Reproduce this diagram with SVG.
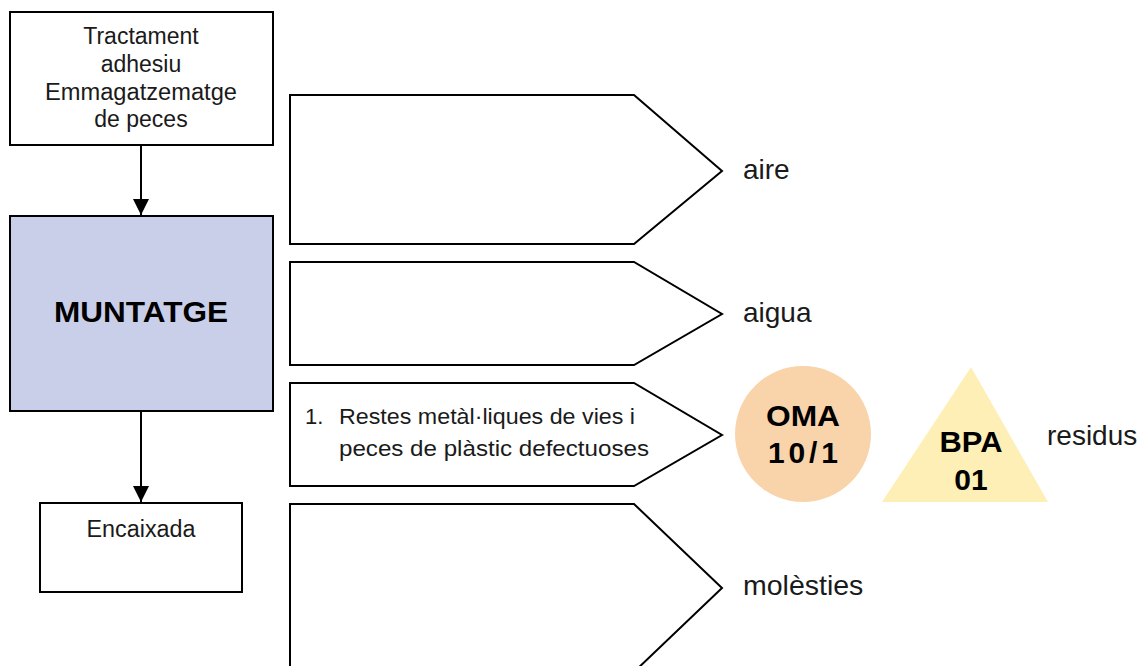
<svg xmlns="http://www.w3.org/2000/svg" width="1144" height="666" viewBox="0 0 1144 666">
<defs>
<style>
.box{fill:#fff;stroke:#000;stroke-width:2}
.pent{fill:#fff;stroke:#000;stroke-width:2;stroke-linejoin:miter}
.t{font-family:"Liberation Sans",Arial,Helvetica,sans-serif;fill:#1a1a1a}
.c{text-anchor:middle}
.b{font-weight:bold;fill:#000}
.conn{stroke:#000;stroke-width:2;fill:none}
</style>
<marker id="ahd" viewBox="0 0 16 16" refX="16" refY="8" markerWidth="16" markerHeight="16" markerUnits="userSpaceOnUse" orient="auto">
<path d="M0,0 L16,8 L0,16 Z" fill="#000"/>
</marker>
</defs>
<rect width="1144" height="666" fill="#fff"/>

<g id="connectors">
<line class="conn" x1="141" y1="145" x2="141" y2="215" marker-end="url(#ahd)"/>
<line class="conn" x1="141" y1="411" x2="141" y2="502" marker-end="url(#ahd)"/>
</g>

<g id="node-tractament">
<rect class="box" x="10" y="12" width="263" height="133"/>
<text class="t c" x="141" y="44" font-size="23">Tractament</text>
<text class="t c" x="141" y="72" font-size="23">adhesiu</text>
<text class="t c" x="141" y="100" font-size="23" textLength="192" lengthAdjust="spacingAndGlyphs">Emmagatzematge</text>
<text class="t c" x="141" y="127" font-size="23">de peces</text>
</g>

<g id="node-muntatge">
<rect x="10" y="216" width="263" height="195" fill="#c9cfe8" stroke="#000" stroke-width="2"/>
<text class="t c b" x="141" y="322" font-size="30" textLength="174" lengthAdjust="spacingAndGlyphs">MUNTATGE</text>
</g>

<g id="node-encaixada">
<rect class="box" x="40" y="503" width="202" height="89"/>
<text class="t c" x="141" y="537" font-size="23" textLength="109" lengthAdjust="spacingAndGlyphs">Encaixada</text>
</g>

<g id="node-aire">
<polygon class="pent" points="290,95 634,95 722,171 634,244 290,244"/>
<text class="t" x="743" y="179" font-size="28">aire</text>
</g>

<g id="node-aigua">
<polygon class="pent" points="290,262 634,262 722,314 634,365 290,365"/>
<text class="t" x="743" y="322" font-size="28">aigua</text>
</g>

<g id="node-residus">
<polygon class="pent" points="290,383 634,383 722,435 634,486 290,486"/>
<text class="t" x="305" y="424" font-size="22">1.</text>
<text class="t" x="339" y="424" font-size="22" textLength="296" lengthAdjust="spacingAndGlyphs">Restes metàl·liques de vies i</text>
<text class="t" x="339" y="456" font-size="22" textLength="310" lengthAdjust="spacingAndGlyphs">peces de plàstic defectuoses</text>
<text class="t" x="1047" y="445" font-size="28">residus</text>
</g>

<g id="node-oma">
<circle cx="803" cy="434" r="68" fill="#f9d4aa"/>
<text class="t c b" x="803" y="426" font-size="30" textLength="74" lengthAdjust="spacingAndGlyphs">OMA</text>
<text class="t c b" x="803" y="463" font-size="30" textLength="70" lengthAdjust="spacing">10/1</text>
</g>

<g id="node-bpa">
<polygon points="971,367 1048,502 882,502" fill="#fdefb5"/>
<text class="t c b" x="971" y="452" font-size="30" textLength="63" lengthAdjust="spacingAndGlyphs">BPA</text>
<text class="t c b" x="971" y="490" font-size="30">01</text>
</g>

<g id="node-molesties">
<polygon class="pent" points="290,504 634,504 722,588 634,672 290,672"/>
<text class="t" x="743" y="595" font-size="28.5">molèsties</text>
</g>
</svg>
